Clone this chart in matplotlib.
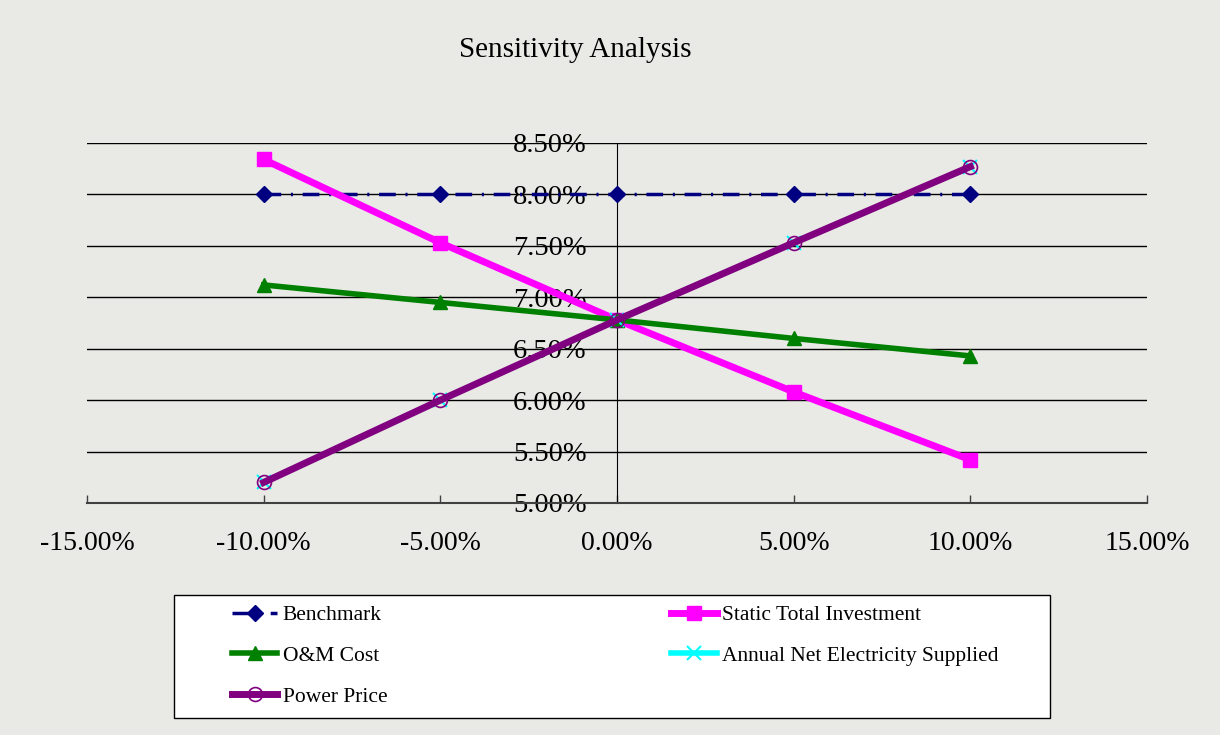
import matplotlib
matplotlib.use("Agg")
from matplotlib import pyplot as plt
from matplotlib.patches import Rectangle
from matplotlib.ticker import PercentFormatter

# sensitivity change (%) and resulting rate (%)
changes = [-10, -5, 0, 5, 10]
benchmark = [8.00, 8.00, 8.00, 8.00, 8.00]
static_investment = [8.34, 7.53, 6.78, 6.08, 5.42]
om_cost = [7.12, 6.95, 6.78, 6.60, 6.43]
annual_electricity = [5.20, 6.00, 6.78, 7.53, 8.27]
power_price = [5.20, 6.00, 6.78, 7.53, 8.27]

x_ticks = [-15, -10, -5, 0, 5, 10, 15]
y_ticks = [5.0, 5.5, 6.0, 6.5, 7.0, 7.5, 8.0, 8.5]

plt.rcParams['font.family'] = ['Liberation Serif', 'DejaVu Serif']
plt.rcParams['lines.scale_dashes'] = False
plt.rcParams['axes.unicode_minus'] = False

W, H = 1220, 735
bg = '#e9e9e6'
fig = plt.figure(figsize=(W / 100, H / 100), dpi=100, facecolor=bg)
ax = fig.add_axes([87 / W, 1 - 503 / H, 1060 / W, 360 / H])
ax.set_facecolor('none')

h_bench, = ax.plot(changes, benchmark, color='#000080', lw=2.5,
                   dashes=(12, 7, 1.5, 7), marker='D', ms=8,
                   label='Benchmark', zorder=3)
h_static, = ax.plot(changes, static_investment, color='#ff00ff', lw=5,
                    marker='s', ms=10, label='Static Total Investment', zorder=3)
h_om, = ax.plot(changes, om_cost, color='#008000', lw=4, marker='^', ms=10,
                label='O&M Cost', zorder=3)
h_elec, = ax.plot(changes, annual_electricity, color='#00ffff', lw=4,
                  marker='x', ms=10, mew=1.5,
                  label='Annual Net Electricity Supplied', zorder=3)
h_price, = ax.plot(changes, power_price, color='#800080', lw=5, marker='o',
                   ms=10, mfc='none', mec='#800080', mew=1.2,
                   label='Power Price', zorder=3)

ax.set_xlim(-15, 15)
ax.set_ylim(5.0, 8.5)
ax.set_xticks(x_ticks)
ax.set_yticks(y_ticks)
ax.xaxis.set_major_formatter(PercentFormatter(decimals=2))
ax.yaxis.set_major_formatter(PercentFormatter(decimals=2))

for yv in y_ticks[1:]:
    ax.axhline(yv, color='black', lw=1, zorder=1)

ax.spines['top'].set_visible(False)
ax.spines['right'].set_visible(False)
ax.spines['left'].set_position(('data', 0))
ax.spines['left'].set_color('black')
ax.spines['bottom'].set_color('#404040')
ax.spines['bottom'].set_linewidth(1.5)

ax.tick_params(axis='x', direction='in', length=6, width=1, pad=20,
               labelsize=20, colors='#404040', labelcolor='black')
ax.tick_params(axis='y', length=0, pad=22, labelsize=20.5)

fig.text(575 / W, 1 - 50 / H, 'Sensitivity Analysis', ha='center',
         va='center', fontsize=21)

# legend box drawn by hand so its size matches the original
fig.patches.append(Rectangle((174 / W, 1 - 718 / H), 876 / W, 123 / H,
                             transform=fig.transFigure, facecolor='white',
                             edgecolor='black', lw=1, zorder=0))

# column-major fill -> reorder so rows read like the original
handles = [h_bench, h_om, h_price, h_static, h_elec]
leg = fig.legend(handles=handles, loc='upper left',
                 bbox_to_anchor=(232 / W, 1 - 605 / H),
                 ncol=2, fontsize=15.5, frameon=False,
                 handlelength=2.1, handletextpad=0.25, labelspacing=0.97,
                 columnspacing=13.2, borderpad=0, borderaxespad=0)

fig.savefig('out.png', dpi=100, facecolor=bg)
